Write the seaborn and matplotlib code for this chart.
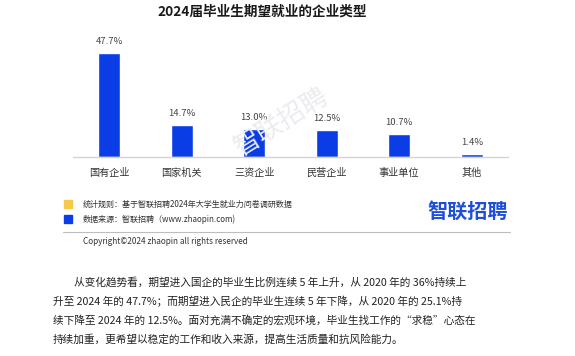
import pandas as pd
import seaborn as sns
import matplotlib.pyplot as plt

categories = ['国有企业', '国家机关', '三资企业', '民营企业', '事业单位', '其他']
shares = [47.7, 14.7, 13.0, 12.5, 10.7, 1.4]
bar_labels = ['47.7%', '14.7%', '13.0%', '12.5%', '10.7%', '1.4%']

title = '2024届毕业生期望就业的企业类型'
note_rule = '统计规则：基于智联招聘2024年大学生就业力问卷调研数据'
note_source = '数据来源：智联招聘（www.zhaopin.com)'
copyright_txt = 'Copyright©2024 zhaopin all rights reserved'
paragraph = [
    '从变化趋势看，期望进入国企的毕业生比例连续 5 年上升，从 2020 年的 36%持续上',
    '升至 2024 年的 47.7%；而期望进入民企的毕业生连续 5 年下降，从 2020 年的 25.1%持',
    '续下降至 2024 年的 12.5%。面对充满不确定的宏观环境，毕业生找工作的“求稳”心态在',
    '持续加重，更希望以稳定的工作和收入来源，提高生活质量和抗风险能力。',
]

df = pd.DataFrame({'type': categories, 'share': shares})

sns.set_style('white')
plt.rcParams['font.family'] = ['Noto Sans CJK SC', 'DejaVu Sans']

W, H = 575, 356
fig = plt.figure(figsize=(W / 100, H / 100), dpi=100)
fig.patch.set_facecolor('white')

blue = '#0b3de6'

# chart area in pixels
x0, x1 = 73, 508
base, top = 157, 37
ax = fig.add_axes([x0 / W, 1 - base / H, (x1 - x0) / W, (base - top) / H])
sns.barplot(data=df, x='type', y='share', color=blue, width=0.31,
            saturation=1, ax=ax, zorder=2)
ax.set_xlim(-0.5, 5.5)
ax.set_ylim(0, 55)
ax.set(xlabel=None, ylabel=None)
ax.set_yticks([])
ax.patch.set_alpha(0)
for s in ['top', 'right', 'left']:
    ax.spines[s].set_visible(False)
ax.spines['bottom'].set_color('#d4d4d8')
ax.spines['bottom'].set_linewidth(1.0)
ax.tick_params(axis='x', length=0, pad=8, labelsize=7.3, labelcolor='#333333')

for i, (v, lab) in enumerate(zip(shares, bar_labels)):
    ax.annotate(lab, (i, v), xytext=(0, 5), textcoords='offset points',
                ha='center', va='bottom', fontsize=6.8, color='#444444')

# faint watermark
fig.text(282 / W, 1 - 122 / H, '智联招聘', rotation=32, fontsize=19,
         color='#ececf0', ha='center', va='center', zorder=0)

fig.text(262 / W, 1 - 12 / H, title, ha='center', va='center',
         fontsize=9.8, fontweight='bold', color='#1a1a1a')

# footer notes
fig.patches.append(plt.Rectangle((64 / W, 1 - 208 / H), 8 / W, 8 / H,
                                 transform=fig.transFigure, color='#f7c948'))
fig.patches.append(plt.Rectangle((64 / W, 1 - 223 / H), 8 / W, 8 / H,
                                 transform=fig.transFigure, color=blue))
fig.text(83 / W, 1 - 204 / H, note_rule, ha='left', va='center',
         fontsize=5.8, color='#333333')
fig.text(83 / W, 1 - 219 / H, note_source, ha='left', va='center',
         fontsize=5.8, color='#333333')
fig.text(508 / W, 1 - 211 / H, '智联招聘', ha='right', va='center',
         fontsize=14.5, fontweight='bold', color='#1f4fd8')
fig.add_artist(plt.Line2D([63 / W, 510 / W], [1 - 232 / H, 1 - 232 / H],
                          color='#bdbdbd', linewidth=0.8))
fig.text(83 / W, 1 - 242 / H, copyright_txt, ha='left', va='center',
         fontsize=5.9, color='#333333')

# paragraph below the chart
for k, line in enumerate(paragraph):
    x = 74 if k == 0 else 53
    fig.text(x / W, 1 - (282 + 19 * k) / H, line, ha='left', va='center',
             fontsize=7.7, color='#222222')

fig.savefig('out.png', dpi=100)
